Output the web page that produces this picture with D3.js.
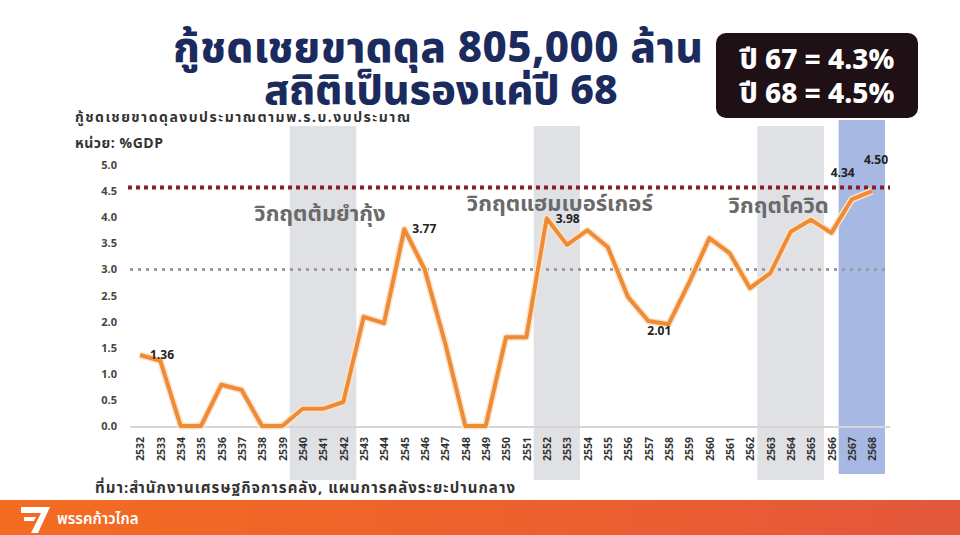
<!DOCTYPE html>
<html>
<head>
<meta charset="utf-8">
<script src="https://cdn.jsdelivr.net/npm/d3@7"></script>
<style>
  body { margin: 0; background: #fff; }
  svg { display: block; font-family: "Noto Sans Thai", "Noto Sans", "DejaVu Sans", sans-serif; }
</style>
</head>
<body>
<svg id="chart" width="960" height="535"></svg>
<script>
// ---- data ----
const years = ["2532","2533","2534","2535","2536","2537","2538","2539","2540","2541","2542","2543",
  "2544","2545","2546","2547","2548","2549","2550","2551","2552","2553","2554","2555","2556","2557",
  "2558","2559","2560","2561","2562","2563","2564","2565","2566","2567","2568"];
const deficitPct = [1.36,1.25,0,0,0.79,0.69,0,0,0.33,0.33,0.46,2.09,1.97,3.77,3.0,1.6,0,0,1.70,1.70,
  3.98,3.47,3.75,3.43,2.47,2.01,1.95,2.74,3.6,3.31,2.64,2.93,3.72,3.95,3.70,4.34,4.50];
const yTicks = [0,0.5,1,1.5,2,2.5,3,3.5,4,4.5,5];
const crisisNames = ["วิกฤตต้มยำกุ้ง", "วิกฤตแฮมเบอร์เกอร์", "วิกฤตโควิด"];
const crisisStart = ["2540", "2552", "2563"];
const crisisEnd = ["2542", "2553", "2565"];
const forecastYears = ["2567", "2568"];
const labelYears = ["2532", "2545", "2552", "2557", "2567", "2568"];
const ceilingLine = 4.57;
const refLine = 3.0;

const svg = d3.select("#chart");

const x = d3.scalePoint().domain(years).range([140, 872]);
const y = d3.scaleLinear().domain([0, 5]).range([426, 165]);
const pad = 13;

// ---- title ----
svg.append("text").attr("x", 438).attr("y", 62).attr("text-anchor", "middle")
  .attr("font-size", 42).attr("font-weight", 800).attr("fill", "#1b2b5e")
  .attr("textLength", 530).attr("lengthAdjust", "spacing")
  .text("กู้ชดเชยขาดดุล 805,000 ล้าน");
svg.append("text").attr("x", 441).attr("y", 104).attr("text-anchor", "middle")
  .attr("font-size", 41).attr("font-weight", 800).attr("fill", "#1b2b5e")
  .text("สถิติเป็นรองแค่ปี 68");

// ---- bands ----
const bands = svg.append("g");
crisisStart.forEach((s, i) => {
  bands.append("rect")
    .attr("x", x(s) - pad).attr("width", x(crisisEnd[i]) - x(s) + 2 * pad)
    .attr("y", 126).attr("height", 354)
    .attr("fill", "#dfe1e5");
});
bands.append("rect")
  .attr("x", x(forecastYears[0]) - pad)
  .attr("width", x(forecastYears[1]) - x(forecastYears[0]) + 2 * pad)
  .attr("y", 120).attr("height", 354)
  .attr("fill", "#a7b8e2");

// ---- box ----
svg.append("rect").attr("x", 716).attr("y", 33).attr("width", 202).attr("height", 85)
  .attr("rx", 10).attr("fill", "#1f1016");
svg.append("text").attr("x", 817).attr("y", 69).attr("text-anchor", "middle")
  .attr("font-size", 28).attr("font-weight", 800).attr("fill", "#fff").text("ปี 67 = 4.3%");
svg.append("text").attr("x", 817).attr("y", 103).attr("text-anchor", "middle")
  .attr("font-size", 28).attr("font-weight", 800).attr("fill", "#fff").text("ปี 68 = 4.5%");

// ---- axis titles ----
svg.append("text").attr("x", 75).attr("y", 122).attr("font-size", 14).attr("font-weight", 700)
  .attr("fill", "#333").attr("textLength", 335).attr("lengthAdjust", "spacing")
  .text("กู้ชดเชยขาดดุลงบประมาณตามพ.ร.บ.งบประมาณ");
svg.append("text").attr("x", 75).attr("y", 148).attr("font-size", 14).attr("font-weight", 700)
  .attr("fill", "#333").attr("textLength", 88).attr("lengthAdjust", "spacing")
  .text("หน่วย: %GDP");

// ---- y axis ----
const yAxis = svg.append("g").attr("transform", "translate(117,0)")
  .call(d3.axisLeft(y).tickValues(yTicks).tickFormat(d3.format(".1f")).tickSize(0).tickPadding(0));
yAxis.select(".domain").remove();
yAxis.selectAll("text").attr("font-size", 11).attr("font-weight", 700).attr("fill", "#444")
  .attr("font-family", "'Open Sans', sans-serif");

// baseline
svg.append("line").attr("x1", 130).attr("x2", 890).attr("y1", y(0) + 1).attr("y2", y(0) + 1)
  .attr("stroke", "#d6d6d6").attr("stroke-width", 2);

// ---- x axis ----
const xAxis = svg.append("g").attr("transform", `translate(0,${y(0) + 6})`)
  .call(d3.axisBottom(x).tickSize(0).tickPadding(0));
xAxis.select(".domain").remove();
xAxis.selectAll("text")
  .attr("font-size", 10.5).attr("font-weight", 700).attr("fill", "#333")
  .attr("font-family", "'Open Sans', sans-serif")
  .attr("text-anchor", "end").attr("dy", "0.35em")
  .attr("transform", "rotate(-90)").attr("x", -5).attr("y", 0);

// ---- reference lines ----
svg.append("line").attr("x1", 130).attr("x2", 890).attr("y1", y(refLine)).attr("y2", y(refLine))
  .attr("stroke", "#9c9c9c").attr("stroke-width", 3).attr("stroke-dasharray", "3,5");
svg.append("line").attr("x1", 128).attr("x2", 890).attr("y1", y(ceilingLine)).attr("y2", y(ceilingLine))
  .attr("stroke", "#8a1c2c").attr("stroke-width", 4).attr("stroke-dasharray", "4,4");

// ---- crisis labels ----
crisisNames.forEach((name, i) => {
  const cx = (x(crisisStart[i]) + x(crisisEnd[i])) / 2;
  const offs = [[-3, 221], [3, 211], [-12, 213]][i];
  svg.append("text").attr("x", cx + offs[0]).attr("y", offs[1]).attr("text-anchor", "middle")
    .attr("font-size", 22).attr("font-weight", 700).attr("fill", "#6a6a6a").text(name);
});

// ---- line ----
const pts = years.map((yr, i) => ({ yr, v: deficitPct[i] }));
const line = d3.line().x(d => x(d.yr)).y(d => y(d.v));
svg.append("path").datum(pts).attr("d", line)
  .attr("fill", "none").attr("stroke", "#fbe3cc").attr("stroke-width", 7)
  .attr("stroke-linejoin", "round");
svg.append("path").datum(pts).attr("d", line)
  .attr("fill", "none").attr("stroke", "#ef8a35").attr("stroke-width", 4)
  .attr("stroke-linejoin", "round");

// ---- value labels ----
const labelOffset = {
  "2532": [10, 4, "start"], "2545": [8, 4, "start"], "2552": [9, 5, "start"],
  "2557": [11, 14, "middle"], "2567": [-9, -22, "middle"], "2568": [4, -27, "middle"]
};
labelYears.forEach(yr => {
  const v = deficitPct[years.indexOf(yr)];
  const o = labelOffset[yr];
  svg.append("text").attr("x", x(yr) + o[0]).attr("y", y(v) + o[1])
    .attr("text-anchor", o[2]).attr("font-size", 12).attr("font-weight", 700)
    .attr("font-family", "'Open Sans', sans-serif").attr("fill", "#222")
    .text(d3.format(".2f")(v));
});

// ---- source ----
svg.append("text").attr("x", 95).attr("y", 493).attr("font-size", 15).attr("font-weight", 700)
  .attr("fill", "#333").attr("textLength", 420).attr("lengthAdjust", "spacing")
  .text("ที่มา:สำนักงานเศรษฐกิจการคลัง, แผนการคลังระยะปานกลาง");

// ---- footer bar ----
const grad = svg.append("defs").append("linearGradient").attr("id", "bar");
grad.append("stop").attr("offset", "0%").attr("stop-color", "#f36c21");
grad.append("stop").attr("offset", "60%").attr("stop-color", "#ec5f2f");
grad.append("stop").attr("offset", "100%").attr("stop-color", "#e3573c");
svg.append("rect").attr("x", 0).attr("y", 500).attr("width", 960).attr("height", 35).attr("fill", "url(#bar)");
svg.append("path").attr("d", "M21,507 L50,507 L38,533 L31,533 L41,513 L21,513 Z M24,517 L36,517 L34,521 L24,521 Z")
  .attr("fill", "#fff");
svg.append("text").attr("x", 57).attr("y", 524).attr("font-size", 15).attr("font-weight", 600)
  .attr("fill", "#fff").text("พรรคก้าวไกล");
</script>
</body>
</html>
